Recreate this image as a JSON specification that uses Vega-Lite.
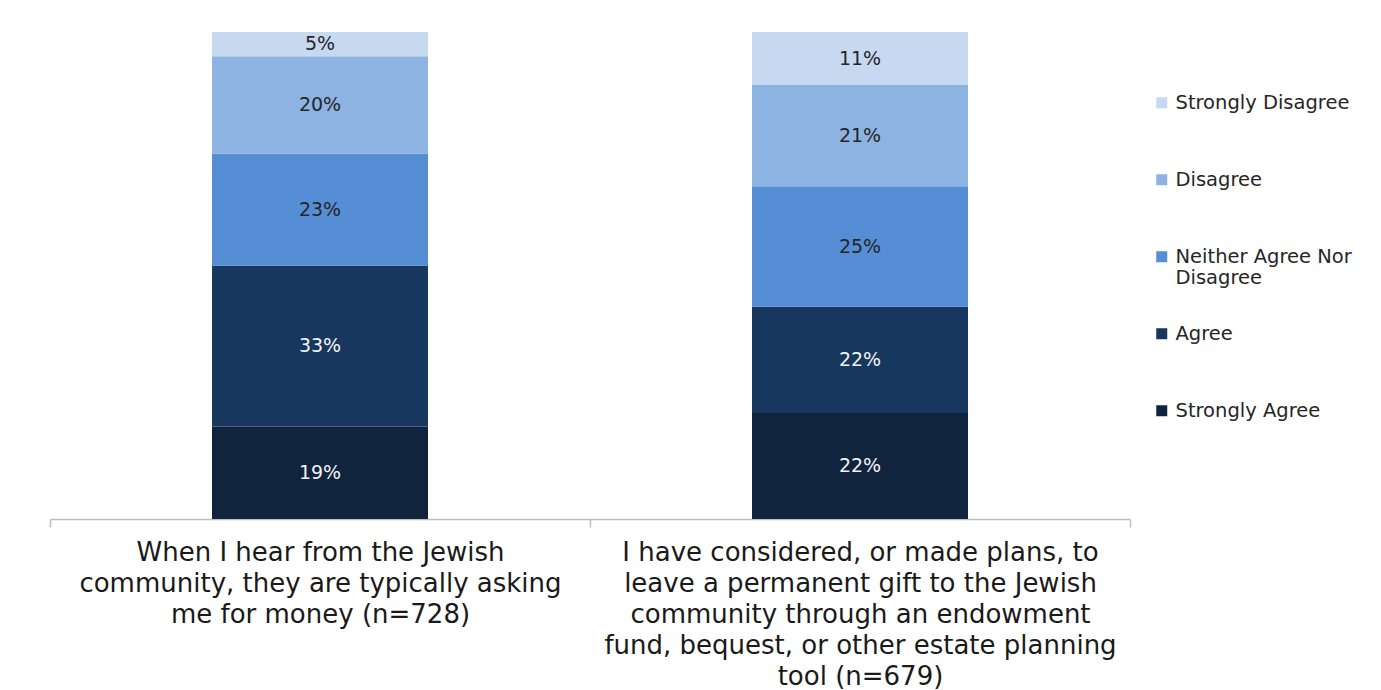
{
  "$schema": "https://vega.github.io/schema/vega-lite/v6.json",
  "width": 1080,
  "height": 487,
  "autosize": "none",
  "padding": {"left": 50, "top": 32, "right": 251, "bottom": 171},
  "background": "white",
  "config": {"view": {"stroke": null}, "font": "DejaVu Sans"},
  "data": {
    "values": [
      {"question": "When I hear from the Jewish|community, they are typically asking|me for money (n=728)", "level": "Strongly Agree", "rank": 1, "value": 19},
      {"question": "When I hear from the Jewish|community, they are typically asking|me for money (n=728)", "level": "Agree", "rank": 2, "value": 33},
      {"question": "When I hear from the Jewish|community, they are typically asking|me for money (n=728)", "level": "Neither Agree Nor Disagree", "rank": 3, "value": 23},
      {"question": "When I hear from the Jewish|community, they are typically asking|me for money (n=728)", "level": "Disagree", "rank": 4, "value": 20},
      {"question": "When I hear from the Jewish|community, they are typically asking|me for money (n=728)", "level": "Strongly Disagree", "rank": 5, "value": 5},
      {"question": "I have considered, or made plans, to|leave a permanent gift to the Jewish|community through an endowment|fund, bequest, or other estate planning|tool (n=679)", "level": "Strongly Agree", "rank": 1, "value": 22},
      {"question": "I have considered, or made plans, to|leave a permanent gift to the Jewish|community through an endowment|fund, bequest, or other estate planning|tool (n=679)", "level": "Agree", "rank": 2, "value": 22},
      {"question": "I have considered, or made plans, to|leave a permanent gift to the Jewish|community through an endowment|fund, bequest, or other estate planning|tool (n=679)", "level": "Neither Agree Nor Disagree", "rank": 3, "value": 25},
      {"question": "I have considered, or made plans, to|leave a permanent gift to the Jewish|community through an endowment|fund, bequest, or other estate planning|tool (n=679)", "level": "Disagree", "rank": 4, "value": 21},
      {"question": "I have considered, or made plans, to|leave a permanent gift to the Jewish|community through an endowment|fund, bequest, or other estate planning|tool (n=679)", "level": "Strongly Disagree", "rank": 5, "value": 11}
    ]
  },
  "transform": [
    {"stack": "value", "groupby": ["question"], "sort": [{"field": "rank", "order": "ascending"}], "offset": "normalize", "as": ["v0", "v1"]},
    {"calculate": "(datum.v0 + datum.v1) / 2", "as": "mid"},
    {"calculate": "datum.value + '%'", "as": "label"}
  ],
  "encoding": {
    "x": {
      "field": "question",
      "type": "nominal",
      "sort": null,
      "scale": {"paddingInner": 0, "paddingOuter": 0},
      "axis": {
        "title": null,
        "labelExpr": "split(datum.label, '|')",
        "labelAngle": 0,
        "labelFont": "DejaVu Sans",
        "labelFontSize": 26,
        "labelLineHeight": 31,
        "labelColor": "#1a1a1a",
        "labelLimit": 0,
        "labelPadding": 12,
        "domainColor": "#bfbfbf",
        "domainWidth": 1.5,
        "tickColor": "#bfbfbf",
        "tickWidth": 1.5,
        "tickSize": 8,
        "tickBand": "extent"
      }
    }
  },
  "layer": [
    {
      "mark": {"type": "bar", "width": {"band": 0.4}},
      "encoding": {
        "y": {"field": "v0", "type": "quantitative", "scale": {"domain": [0, 1]}, "axis": null},
        "y2": {"field": "v1"},
        "color": {
          "field": "level",
          "type": "nominal",
          "scale": {
            "domain": ["Strongly Disagree", "Disagree", "Neither Agree Nor Disagree", "Agree", "Strongly Agree"],
            "range": ["#c6d9f1", "#8db3e2", "#558ed5", "#17375e", "#10243e"]
          },
          "legend": {
            "title": null,
            "orient": "none",
            "legendX": 1102,
            "legendY": 61,
            "padding": 0,
            "gridAlign": "all",
            "symbolType": "square",
            "symbolSize": 121,
            "symbolStrokeWidth": 0,
            "labelFont": "DejaVu Sans",
            "labelFontSize": 19.5,
            "labelColor": "#262626",
            "labelOffset": 4,
            "labelLimit": 0,
            "rowPadding": 35,
            "labelExpr": "datum.label == 'Neither Agree Nor Disagree' ? ['Neither Agree Nor', 'Disagree'] : datum.label"
          }
        },
        "order": {"field": "rank", "type": "quantitative"}
      }
    },
    {
      "mark": {"type": "text", "fontSize": 19, "font": "DejaVu Sans"},
      "encoding": {
        "y": {"field": "mid", "type": "quantitative", "scale": {"domain": [0, 1]}},
        "text": {"field": "label"},
        "color": {
          "condition": {"test": "datum.level == 'Agree' || datum.level == 'Strongly Agree'", "value": "#f2f2f2"},
          "value": "#262626"
        }
      }
    }
  ]
}
